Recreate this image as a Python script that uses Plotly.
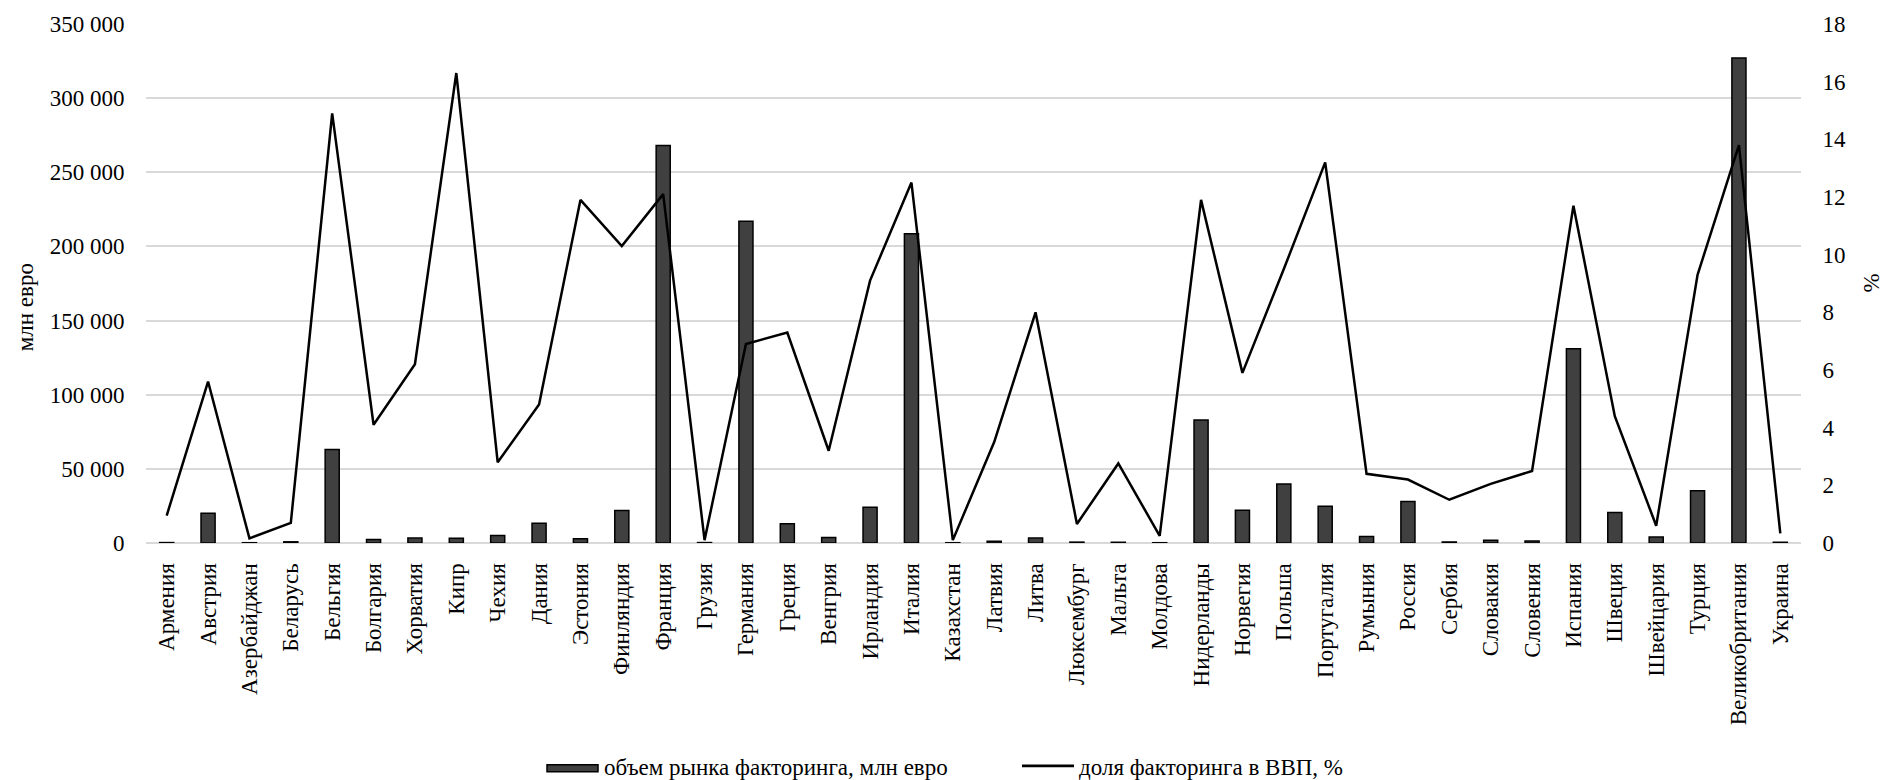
import plotly.graph_objects as go

# Factoring market by country
countries = [
    "Армения", "Австрия", "Азербайджан", "Беларусь", "Бельгия", "Болгария",
    "Хорватия", "Кипр", "Чехия", "Дания", "Эстония", "Финляндия", "Франция",
    "Грузия", "Германия", "Греция", "Венгрия", "Ирландия", "Италия",
    "Казахстан", "Латвия", "Литва", "Люксембург", "Мальта", "Молдова",
    "Нидерланды", "Норвегия", "Польша", "Португалия", "Румыния", "Россия",
    "Сербия", "Словакия", "Словения", "Испания", "Швеция", "Швейцария",
    "Турция", "Великобритания", "Украина",
]

# Factoring market volume, mln EUR
volume_mln_eur = [
    300, 20000, 200, 800, 63000, 2400,
    3300, 3200, 5000, 13400, 2800, 22000, 268000,
    300, 217000, 12900, 3700, 24100, 208500,
    200, 1200, 3300, 600, 500, 200,
    83000, 22100, 39800, 24800, 4300, 28000,
    700, 1900, 1300, 131000, 20500, 4000,
    35300, 327000, 500,
]

# Factoring share of GDP, %
share_gdp_pct = [
    0.95, 5.6, 0.16, 0.7, 14.9, 4.1,
    6.2, 16.3, 2.8, 4.8, 11.9, 10.3, 12.1,
    0.1, 6.9, 7.3, 3.2, 9.1, 12.5,
    0.1, 3.5, 8.0, 0.66, 2.76, 0.25,
    11.9, 5.9, 9.5, 13.2, 2.4, 2.2,
    1.5, 2.05, 2.5, 11.7, 4.4, 0.6,
    9.3, 13.8, 0.33,
]

bar_name = "объем рынка факторинга, млн евро"
line_name = "доля факторинга в ВВП, %"

W, H = 1895, 780
ML, MR, MT, MB = 146, 94, 19, 237
PW, PH = W - ML - MR, H - MT - MB


def px_x(px):
    return (px - ML) / PW


def px_y(py):
    return (H - MB - py) / PH


FONT = "Liberation Serif"
BAR_FILL = "#404040"
GRID = "#d9d9d9"
TXT = dict(family=FONT, size=23, color="black")

fig = go.Figure()

fig.add_trace(go.Bar(
    x=countries, y=volume_mln_eur, name=bar_name,
    marker=dict(color=BAR_FILL, line=dict(color="black", width=1.5)),
    yaxis="y", showlegend=False,
))

fig.add_trace(go.Scatter(
    x=countries, y=share_gdp_pct, name=line_name, mode="lines",
    line=dict(color="black", width=2.5),
    yaxis="y2", showlegend=False,
))

fig.update_layout(
    width=W, height=H,
    margin=dict(l=ML, r=MR, t=MT, b=MB),
    paper_bgcolor="white", plot_bgcolor="white",
    font=TXT,
    separators=", ",
    bargap=0.66,
    xaxis=dict(
        type="category", tickangle=-90, showgrid=False, showline=False,
        ticks="outside", ticklen=10, tickcolor="rgba(0,0,0,0)",
        tickfont=TXT,
    ),
    yaxis=dict(
        range=[0, 350000], dtick=50000, tickformat=",d",
        showgrid=True, gridcolor=GRID, gridwidth=1.5,
        zeroline=True, zerolinecolor=GRID, zerolinewidth=1.5,
        showline=False, ticks="outside", ticklen=16,
        tickcolor="rgba(0,0,0,0)",
        tickfont=TXT,
    ),
    yaxis2=dict(
        range=[0, 18], dtick=2, overlaying="y", side="right",
        showgrid=False, zeroline=False, showline=False,
        ticks="outside", ticklen=16, tickcolor="rgba(0,0,0,0)",
        tickfont=TXT,
    ),
    showlegend=False,
)

# Axis titles
fig.add_annotation(
    text="млн евро", textangle=-90, showarrow=False,
    xref="paper", yref="paper", x=px_x(25), y=px_y(305),
    xanchor="center", yanchor="middle", font=TXT,
)
fig.add_annotation(
    text="%", textangle=-90, showarrow=False,
    xref="paper", yref="paper", x=px_x(1871), y=px_y(281),
    xanchor="center", yanchor="middle", font=TXT,
)

# Legend drawn below the category labels
fig.add_shape(
    type="rect", xref="paper", yref="paper",
    x0=px_x(547), x1=px_x(598), y0=px_y(767), y1=px_y(774),
    fillcolor=BAR_FILL, line=dict(color="black", width=1.5),
)
fig.add_annotation(
    text=bar_name, showarrow=False, xref="paper", yref="paper",
    x=px_x(602), y=px_y(770), xanchor="left", yanchor="middle", font=TXT,
)
fig.add_shape(
    type="line", xref="paper", yref="paper",
    x0=px_x(1022), x1=px_x(1074), y0=px_y(768), y1=px_y(768),
    line=dict(color="black", width=2.6),
)
fig.add_annotation(
    text=line_name, showarrow=False, xref="paper", yref="paper",
    x=px_x(1077), y=px_y(770), xanchor="left", yanchor="middle", font=TXT,
)

fig.write_html("out.html")
